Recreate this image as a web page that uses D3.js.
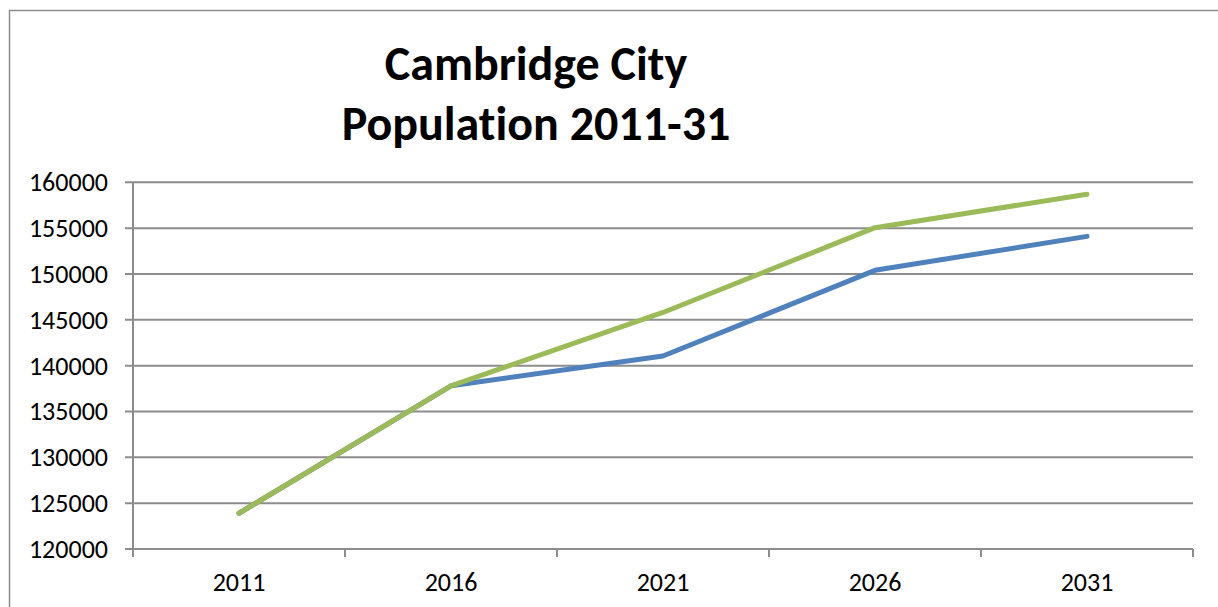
<!DOCTYPE html>
<html><head><meta charset="utf-8">
<script src="https://cdn.jsdelivr.net/npm/d3@7"></script>
<style>body{margin:0;background:#fff;}svg{display:block;}text{font-variant-ligatures:none;}</style>
</head><body>
<script>
const years = ["2011","2016","2021","2026","2031"];
const seriesBlue = [123900, 137800, 141050, 150400, 154100];
const seriesGreen = [123900, 137800, 145800, 155050, 158700];
const yTicks = [120000,125000,130000,135000,140000,145000,150000,155000,160000];
const titleLines = ["Cambridge City","Population 2011-31"];

(function(){
const W=1218,H=607;
const FONT="Carlito, Calibri, Lato, sans-serif";
const svg=d3.select("body").append("svg").attr("width",W).attr("height",H);
svg.append("rect").attr("x",9.5).attr("y",10.5).attr("width",1230).attr("height",620)
  .attr("fill","#fff").attr("stroke","#8c8c8c").attr("stroke-width",1.5);

const pL=133, pR=1193, pT=182.3, pB=549;
const x=d3.scaleBand().domain(years).range([pL,pR]);
const y=d3.scaleLinear().domain([120000,160000]).range([pB,pT]);

svg.append("g").selectAll("line").data(yTicks).join("line")
  .attr("x1",pL-8).attr("x2",pR).attr("y1",d=>y(d)).attr("y2",d=>y(d))
  .attr("stroke","#8c8c8c").attr("stroke-width",2);
svg.append("line").attr("x1",pL).attr("x2",pL).attr("y1",pT).attr("y2",pB+8)
  .attr("stroke","#8c8c8c").attr("stroke-width",2);
const xt=years.map(d=>x(d)).concat([pR]);
svg.append("g").selectAll("line").data(xt).join("line")
  .attr("x1",d=>d).attr("x2",d=>d).attr("y1",pB).attr("y2",pB+8)
  .attr("stroke","#8c8c8c").attr("stroke-width",2);
svg.append("g").selectAll("text").data(yTicks).join("text")
  .attr("x",108).attr("y",d=>y(d)+9).attr("text-anchor","end")
  .attr("font-family",FONT).attr("font-size",26).attr("fill","#000")
  .text(d=>d);
svg.append("g").selectAll("text").data(years).join("text")
  .attr("x",d=>x(d)+x.bandwidth()/2).attr("y",591).attr("text-anchor","middle")
  .attr("font-family",FONT).attr("font-size",26).attr("fill","#000")
  .text(d=>d);

const line=d3.line().x((d,i)=>x(years[i])+x.bandwidth()/2).y(d=>y(d));
svg.append("path").datum(seriesBlue).attr("d",line).attr("fill","none")
  .attr("stroke","#4F81BD").attr("stroke-width",5).attr("stroke-linecap","round").attr("stroke-linejoin","round");
svg.append("path").datum(seriesGreen).attr("d",line).attr("fill","none")
  .attr("stroke","#9BBB59").attr("stroke-width",5).attr("stroke-linecap","round").attr("stroke-linejoin","round");

svg.append("g").selectAll("text").data(titleLines).join("text")
  .attr("x",536).attr("y",(d,i)=>80+i*60).attr("text-anchor","middle")
  .attr("font-family",FONT).attr("font-weight","bold").attr("font-size",48).attr("fill","#000")
  .text(d=>d);
})();
</script>
</body></html>
